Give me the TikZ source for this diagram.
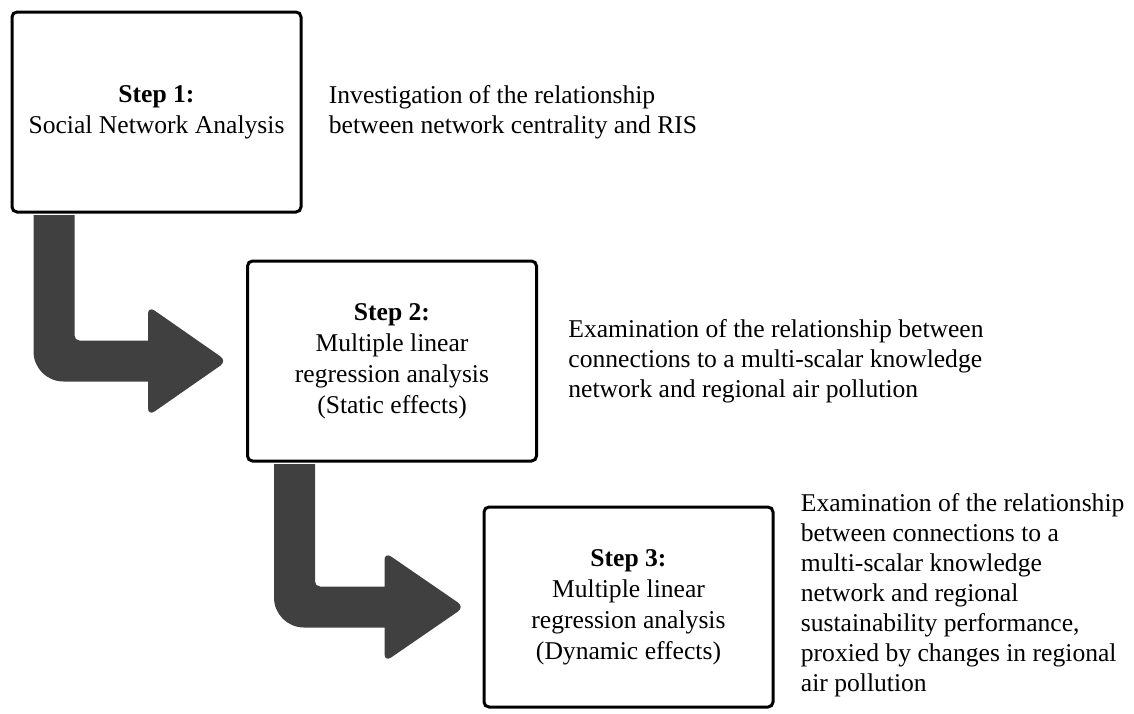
\documentclass[tikz,border=0pt]{standalone}
\usepackage{fontspec}
\setmainfont{Liberation Serif}
\usetikzlibrary{calc, positioning}

\definecolor{arrowgray}{HTML}{404040}

\tikzset{
	stepbox/.style = {draw, line width = 1.5pt, rounded corners = 2.5pt, minimum width = 144.5pt, minimum height = 100pt, align = center, fill = white, font = \fontsize{12.8}{15.5}\selectfont},
	stepnote/.style = {align = left, anchor = west, inner sep = 0pt, font = \fontsize{12.8}{15}\selectfont},
	bigarrow/.style = {fill = arrowgray}
}

\begin{document}
\begin{tikzpicture}[x = 0.5pt, y = -0.5pt]
		\useasboundingbox (0,0) rectangle (1134,713);

		% the three steps
		\node [stepbox] (S1) at (156.5,112) {\textbf{Step 1:}\\Social Network Analysis};
		\node [stepbox] (S2) at (392,361) {\textbf{Step 2:}\\Multiple linear\\regression analysis\\(Static effects)};
		\node [stepbox] (S3) at (628.5,607) {\textbf{Step 3:}\\Multiple linear\\regression analysis\\(Dynamic effects)};

		\node [stepnote, right = 13pt of S1] (N1) {Investigation of the relationship\\between network centrality and RIS};
		\node [stepnote, right = 15pt of S2] (N2) {Examination of the relationship between\\connections to a multi-scalar knowledge\\network and regional air pollution};
		\node [stepnote, right = 13pt of S3, yshift = 6pt] (N3) {Examination of the relationship\\between connections to a\\multi-scalar knowledge\\network and regional\\sustainability performance,\\proxied by changes in regional\\air pollution};

		% bent arrows
		\fill [bigarrow] let \p1 = (S1.south west), \p2 = (S2.west) in
			(\x1+11.5pt, \y1-0.75pt) [rounded corners = 15pt] -- (\x1+11.5pt, \y2-10.25pt) [sharp corners] -- (\x2-49pt, \y2-10.25pt) [rounded corners = 4pt] -- (\x2-49pt, \y2-27.5pt) -- (\x2-9.5pt, \y2) -- (\x2-49pt, \y2+27.5pt) [sharp corners] -- (\x2-49pt, \y2+10.25pt) [rounded corners = 2.5pt] -- (\x1+32pt, \y2+10.25pt) [sharp corners] -- (\x1+32pt, \y1-0.75pt) -- cycle;

		\fill [bigarrow] let \p1 = (S2.south west), \p2 = (S3.west) in
			(\x1+14pt, \y1-0.75pt) [rounded corners = 15pt] -- (\x1+14pt, \y2-10.25pt) [sharp corners] -- (\x2-49pt, \y2-10.25pt) [rounded corners = 4pt] -- (\x2-49pt, \y2-27.5pt) -- (\x2-9pt, \y2) -- (\x2-49pt, \y2+27.5pt) [sharp corners] -- (\x2-49pt, \y2+10.25pt) [rounded corners = 2.5pt] -- (\x1+34.5pt, \y2+10.25pt) [sharp corners] -- (\x1+34.5pt, \y1-0.75pt) -- cycle;
	\end{tikzpicture}
\end{document}
